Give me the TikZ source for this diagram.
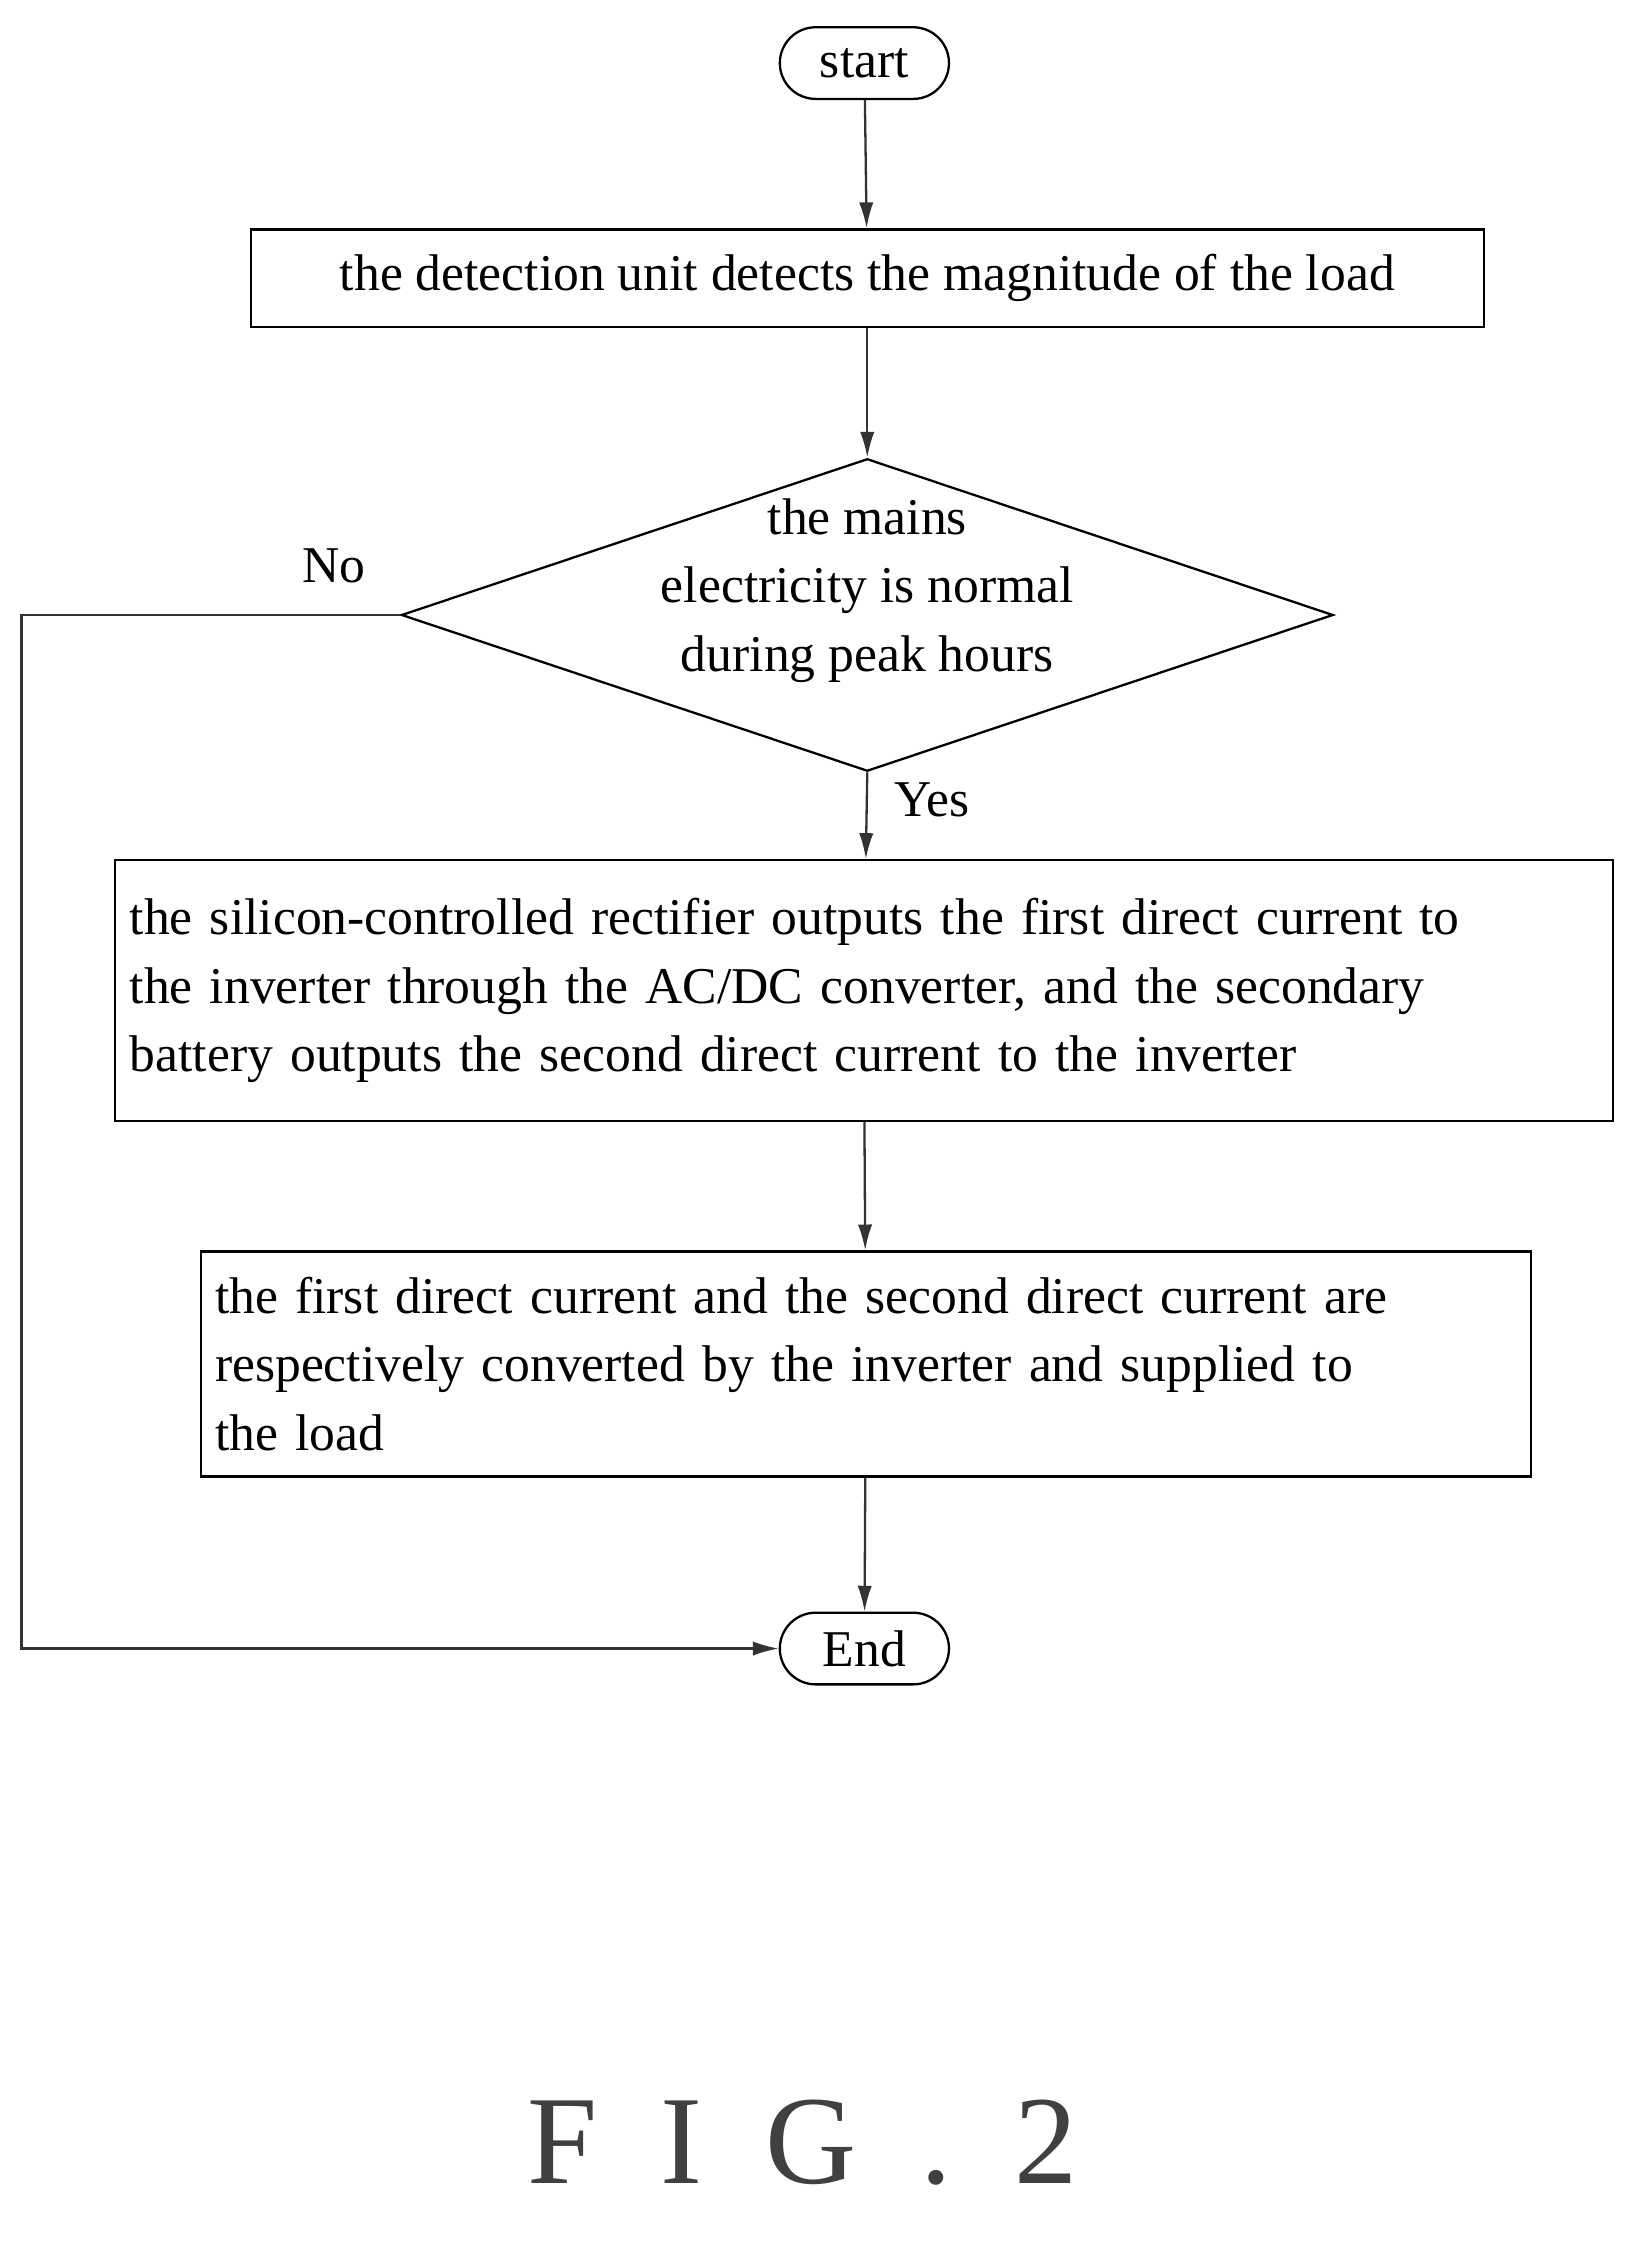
\documentclass[tikz,border=0pt]{standalone}
\usepackage{fontspec}
\setmainfont{Liberation Serif}
\usetikzlibrary{shapes.geometric,arrows.meta}
\begin{document}
\begin{tikzpicture}[x=0.5pt,y=-0.5pt,
  every node/.style={font=\fontsize{18}{24}\selectfont},
  box/.style={draw,line width=0.8pt,inner sep=0pt},
  term/.style={draw,line width=0.8pt,rounded corners=12.5pt,minimum width=59pt,minimum height=25pt,inner sep=0pt},
  line/.style={line width=0.8pt,draw=black!80},
  arr/.style={line,-{Latex[length=9pt,width=5pt]}}]
\useasboundingbox (0,0) rectangle (1140,1564);
\node[term] (start) at (603,44) {start};
\node[box,minimum width=430pt,minimum height=34pt] (b1) at (605,194) {the detection unit detects the magnitude of the load};
\node[diamond,draw,line width=0.8pt,minimum width=325pt,minimum height=109pt,inner sep=0pt,aspect=3] (d) at (605,429) {};
\node[align=center] at (605,412) {the mains\\electricity is normal\\during peak hours};
\node[box,minimum width=522.5pt,minimum height=91pt,align=left,text width=512pt] (b2) at (602.5,691) {the silicon-controlled rectifier outputs the first direct current to\\the inverter through the AC/DC converter, and the secondary\\battery outputs the second direct current to the inverter};
\node[box,minimum width=464pt,minimum height=78.5pt,align=left,text width=454pt] (b3) at (604,951.5) {the first direct current and the second direct current are\\respectively converted by the inverter and supplied to\\the load};
\node[term] (end) at (603,1150) {End};
\coordinate (c1) at (15,429);
\coordinate (c2) at (15,1150);
\draw[arr] (start) -- (b1);
\draw[arr] (b1) -- (d.north);
\draw[arr] (d.south) -- (b2);
\draw[arr] (b2) -- (b3);
\draw[arr] (b3) -- (end);
\draw[arr] (d.west) -- (c1) -- (c2) -- (end);
\node (no) at (233,395) {No};
\node (yes) at (650,558) {Yes};
\node[font=\fontsize{44}{48}\selectfont,text=black!75] (fig) at (560,1495) {F\ \ I\ \ G\ \ .\ \ 2};
\end{tikzpicture}
\end{document}
